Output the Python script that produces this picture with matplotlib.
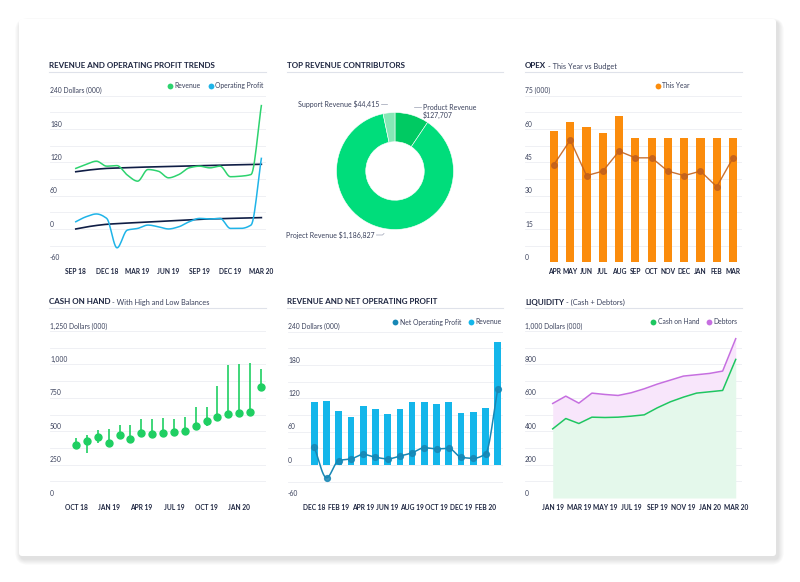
import numpy as np
import matplotlib
matplotlib.use('Agg')
import matplotlib.pyplot as plt
from matplotlib.patches import FancyBboxPatch
from matplotlib.transforms import blended_transform_factory

plt.rcParams['font.family'] = ['Lato', 'DejaVu Sans']

W, H = 800, 582
NAVY = '#1d2540'
TEXT = '#3a415c'
GRID = '#eceef3'

# --- data -----------------------------------------------------------------
trend_months = ['SEP 18', 'OCT 18', 'NOV 18', 'DEC 18', 'JAN 19', 'FEB 19', 'MAR 19',
                'APR 19', 'MAY 19', 'JUN 19', 'JUL 19', 'AUG 19', 'SEP 19', 'OCT 19',
                'NOV 19', 'DEC 19', 'JAN 20', 'FEB 20', 'MAR 20']
trend_revenue = [109, 116, 122, 113, 114, 97, 86, 107, 104, 92, 98, 110, 113, 110, 113, 94, 95, 98, 222]
trend_profit = [13, 22, 27, 19, -34, -2, 1, 7, 4, 0, 4, 13, 19, 18, 19, 1, 1, 7, 127]
trend_revenue_fit = [103, 105.5, 107.5, 109, 109.7, 110.4, 111, 111.5, 112, 112.5, 113, 113.5,
                     114, 114.4, 114.8, 115.2, 115.6, 116, 116.4]
trend_profit_fit = [0, 3.5, 6.3, 8.4, 9.6, 10.6, 11.4, 12.4, 13.4, 14.4, 15.4, 16.4, 17.4, 18,
                    18.5, 19, 19.5, 20, 20.4]

contrib_labels = ['Product Revenue', 'Project Revenue', 'Support Revenue']
contrib_values = [127707, 1186827, 44415]

opex_months = ['APR', 'MAY', 'JUN', 'JUL', 'AUG', 'SEP', 'OCT', 'NOV', 'DEC', 'JAN', 'FEB', 'MAR']
opex_this_year = [59, 63, 61, 58, 66, 56, 56, 56, 56, 56, 56, 56]
opex_budget = [44, 55, 39, 41, 50, 47, 47, 41, 39, 41, 34, 47]

cash_months = ['OCT 18', 'NOV 18', 'DEC 18', 'JAN 19', 'FEB 19', 'MAR 19', 'APR 19', 'MAY 19',
               'JUN 19', 'JUL 19', 'AUG 19', 'SEP 19', 'OCT 19', 'NOV 19', 'DEC 19', 'JAN 20',
               'FEB 20', 'MAR 20']
cash_balance = [400, 425, 458, 413, 475, 445, 483, 480, 483, 493, 500, 538, 575, 605, 630, 635, 643, 830]
cash_high = [450, 468, 508, 518, 543, 550, 593, 588, 600, 595, 608, 683, 683, 838, 993, 1000, 1008, 963]
cash_low = [375, 338, 408, 400, 463, 433, 470, 468, 470, 483, 488, 525, 538, 593, 618, 623, 630, 818]

net_months = ['DEC 18', 'JAN 19', 'FEB 19', 'MAR 19', 'APR 19', 'MAY 19', 'JUN 19', 'JUL 19',
              'AUG 19', 'SEP 19', 'OCT 19', 'NOV 19', 'DEC 19', 'JAN 20', 'FEB 20', 'MAR 20']
net_revenue = [114, 115, 97, 86, 107, 101, 92, 100, 113, 113, 110, 113, 94, 95, 103, 222]
net_profit = [32, -23, 8, 11, 19, 14, 11, 16, 22, 31, 29, 30, 14, 12, 20, 136]

liq_months = ['JAN 19', 'FEB 19', 'MAR 19', 'APR 19', 'MAY 19', 'JUN 19', 'JUL 19', 'AUG 19',
              'SEP 19', 'OCT 19', 'NOV 19', 'DEC 19', 'JAN 20', 'FEB 20', 'MAR 20']
liq_cash = [414, 476, 446, 484, 482, 484, 490, 498, 540, 576, 604, 628, 636, 644, 830]
liq_total = [566, 610, 568, 628, 620, 614, 630, 654, 682, 706, 730, 738, 746, 760, 954]


def smooth(x, y, n=12):
    # monotone cubic, only for drawing the spline look
    x = np.asarray(x, float)
    y = np.asarray(y, float)
    h = np.diff(x)
    d = np.diff(y) / h
    m = np.zeros_like(y)
    m[0], m[-1] = d[0], d[-1]
    for k in range(1, len(y) - 1):
        if d[k - 1] * d[k] > 0:
            w1 = 2 * h[k] + h[k - 1]
            w2 = h[k] + 2 * h[k - 1]
            m[k] = (w1 + w2) / (w1 / d[k - 1] + w2 / d[k])
    xs, ys = [], []
    t = np.linspace(0, 1, n, endpoint=False)
    h00 = 2 * t**3 - 3 * t**2 + 1
    h10 = t**3 - 2 * t**2 + t
    h01 = -2 * t**3 + 3 * t**2
    h11 = t**3 - t**2
    for k in range(len(h)):
        xs.append(x[k] + t * h[k])
        ys.append(h00 * y[k] + h10 * h[k] * m[k] + h01 * y[k + 1] + h11 * h[k] * m[k + 1])
    xs.append([x[-1]])
    ys.append([y[-1]])
    return np.concatenate(xs), np.concatenate(ys)


fig = plt.figure(figsize=(W / 100, H / 100), dpi=100)
fig.patch.set_facecolor('white')

# background layer in pixel coordinates
bg = fig.add_axes([0, 0, 1, 1])
bg.set_xlim(0, W)
bg.set_ylim(H, 0)
bg.axis('off')
for i in range(10, 0, -1):
    bg.add_patch(FancyBboxPatch((19 - i * 0.6 + 2, 19 - i * 0.4 + 3), 757 + i * 1.2, 537 + i * 1.0,
                                boxstyle='round,pad=0,rounding_size=%d' % (3 + i),
                                fc='#000000', ec='none', alpha=0.01))
bg.add_patch(FancyBboxPatch((19, 19), 757, 537, boxstyle='round,pad=0,rounding_size=3',
                            fc='white', ec='none'))

renderer = fig.canvas.get_renderer()


def header(x0, x1, y, bold, rest=''):
    t = bg.text(x0, y, bold, fontsize=5.8, fontweight='bold', color=NAVY, va='center', ha='left')
    if rest:
        ext = t.get_window_extent(renderer)
        bg.text(ext.x1 + 1.5, y, rest, fontsize=5.3, color=TEXT, va='center', ha='left')
    bg.plot([x0, x1], [y + 5.5, y + 5.5], color='#dfe2ea', lw=0.8)


def legend(items, y):
    for x, color, label in items:
        bg.plot(x, y, 'o', ms=4.2, color=color, mec='none')
        bg.text(x + 4.5, y, label, fontsize=4.9, color=TEXT, va='center', ha='left')


def px_axes(x0, y0, x1, y1):
    ax = fig.add_axes([x0 / W, 1 - y1 / H, (x1 - x0) / W, (y1 - y0) / H])
    ax.set_facecolor('none')
    for s in ax.spines.values():
        s.set_visible(False)
    return ax


def fmt(v):
    return '{:,}'.format(int(v))


def style(ax, lo, hi, step, unit, xlim, labels, every):
    ax.set_xlim(*xlim)
    ax.set_ylim(lo, hi)
    for v in np.arange(lo, hi + step / 4, step / 2):
        ax.axhline(v, color=GRID, lw=0.6, zorder=0)
    tr = blended_transform_factory(ax.transAxes, ax.transData)
    for v in np.arange(lo, hi + step / 4, step):
        s = fmt(v) + (' ' + unit if v == hi else '')
        ax.annotate(s, (0, v), xycoords=tr, xytext=(0, 1), textcoords='offset points',
                    fontsize=4.9, color=TEXT, va='bottom', ha='left')
    ax.set_yticks([])
    pos = list(range(0, len(labels), every))
    ax.set_xticks(pos)
    ax.set_xticklabels([labels[i] for i in pos], fontsize=4.8, fontweight='bold', color=NAVY)
    ax.tick_params(axis='x', length=0, pad=4)


# --- panel 1: revenue and operating profit trends -------------------------
header(49, 266, 66, 'REVENUE AND OPERATING PROFIT TRENDS')
legend([(170, '#2dd36f', 'Revenue'), (210.5, '#1fb4e8', 'Operating Profit')], 85.5)
ax1 = px_axes(50, 95.6, 266, 262.3)
style(ax1, -60, 240, 60, 'Dollars (000)', (-2.5, 18.45), trend_months, 3)
xi = np.arange(len(trend_months))
ax1.plot(*smooth(xi, trend_revenue_fit), color='#0f1d45', lw=1.2)
ax1.plot(*smooth(xi, trend_profit_fit), color='#0f1d45', lw=1.2)
ax1.plot(*smooth(xi, trend_revenue), color='#2dd36f', lw=1.1)
ax1.plot(*smooth(xi, trend_profit), color='#1fb4e8', lw=1.1)

# --- panel 2: top revenue contributors ------------------------------------
header(287, 503, 66, 'TOP REVENUE CONTRIBUTORS')
ax2 = px_axes(336.5, 112.5, 453.5, 229.5)
ax2.pie(contrib_values, colors=['#00ca62', '#00dd7b', '#86e8b6'], startangle=90,
        counterclock=False, radius=1, wedgeprops=dict(width=0.5, edgecolor='white', linewidth=0.4))
ax2.set_xlim(-1, 1)
ax2.set_ylim(-1, 1)
ax2.set_aspect('auto')
lab = dict(fontsize=5, color=TEXT, va='center')
bg.text(379, 104, '%s $%s' % (contrib_labels[2], fmt(contrib_values[2])), ha='right', **lab)
bg.plot([380.5, 387], [104, 104], color='#9aa0b2', lw=0.5)
bg.text(423, 107, contrib_labels[0], ha='left', **lab)
bg.text(423, 115, '$' + fmt(contrib_values[0]), ha='left', **lab)
bg.plot([414, 420.5], [107, 107], color='#9aa0b2', lw=0.5)
bg.text(375, 235, '%s $%s' % (contrib_labels[1], fmt(contrib_values[1])), ha='right', **lab)
bg.plot([376.5, 382.5, 384], [235, 235, 233.5], color='#9aa0b2', lw=0.5)

# --- panel 3: opex ---------------------------------------------------------
header(525, 742, 66, 'OPEX', '- This Year vs Budget')
legend([(657.5, '#fb8c0c', 'This Year')], 85.5)
ax3 = px_axes(525, 95.6, 742, 262.3)
style(ax3, 0, 75, 15, '(000)', (-1.78, 11.55), opex_months, 1)
xo = np.arange(len(opex_months))
ax3.bar(xo, opex_this_year, width=0.5, color='#fb8c0c', zorder=2)
ax3.plot(xo, opex_budget, color='#c4621c', lw=1.0, marker='o', ms=4, alpha=0.9, zorder=3)

# --- panel 4: cash on hand -------------------------------------------------
header(49, 266, 302, 'CASH ON HAND', '- With High and Low Balances')
ax4 = px_axes(50, 331, 266, 498)
style(ax4, 0, 1250, 250, 'Dollars (000)', (-2.4, 17.46), cash_months, 3)
xc = np.arange(len(cash_months))
ax4.vlines(xc, cash_low, cash_high, color='#1fcf62', lw=1.2, zorder=2)
ax4.plot(xc, cash_balance, 'o', ms=5, color='#1fcf62', zorder=3)

# --- panel 5: revenue and net operating profit ----------------------------
header(287, 503, 302, 'REVENUE AND NET OPERATING PROFIT')
legend([(395, '#1787b5', 'Net Operating Profit'), (471, '#14b6ea', 'Revenue')], 322)
ax5 = px_axes(288, 331.7, 503, 498.3)
style(ax5, -60, 240, 60, 'Dollars (000)', (-2.15, 15.43), net_months, 2)
xn = np.arange(len(net_months))
ax5.bar(xn, net_revenue, width=0.55, color='#14b6ea', zorder=2)
ax5.plot(*smooth(xn, net_profit), color='#1787b5', lw=1.1, zorder=3)
ax5.plot(xn, net_profit, 'o', ms=4.2, color='#1787b5', alpha=0.85, zorder=4)

# --- panel 6: liquidity ----------------------------------------------------
header(525, 742, 302, 'LIQUIDITY', '- (Cash + Debtors)')
legend([(653, '#1ec760', 'Cash on Hand'), (709, '#c66fe0', 'Debtors')], 322)
ax6 = px_axes(525, 331, 742, 498)
style(ax6, 0, 1000, 200, 'Dollars (000)', (-2.12, 14.48), liq_months, 2)
xl = np.arange(len(liq_months))
ax6.fill_between(xl, 0, liq_cash, color='#e4f8eb', lw=0, zorder=1)
ax6.fill_between(xl, liq_cash, liq_total, color='#f8e6fb', lw=0, zorder=1)
ax6.plot(xl, liq_cash, color='#1ec760', lw=1.1, zorder=3)
ax6.plot(xl, liq_total, color='#c66fe0', lw=1.1, zorder=3)

fig.savefig('out.png', dpi=100, facecolor='white')
